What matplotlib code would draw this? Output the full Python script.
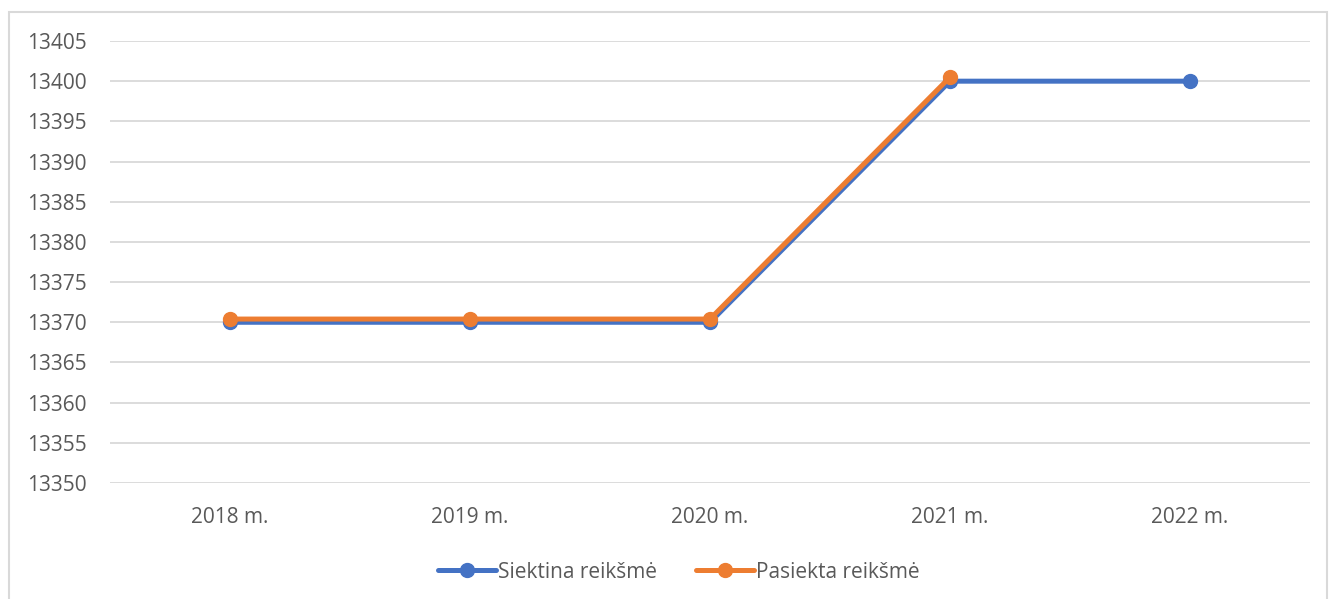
import numpy as np
import matplotlib.pyplot as plt
from matplotlib.patches import Rectangle

plt.rcParams['font.family'] = ['Open Sans', 'DejaVu Sans']

years = ["2018 m.", "2019 m.", "2020 m.", "2021 m.", "2022 m."]
siektina = [13370, 13370, 13370, 13400, 13400]
pasiekta = [13370.4, 13370.4, 13370.4, 13400.5, np.nan]

fig = plt.figure(figsize=(13.3, 5.99), dpi=100)
ax = fig.add_axes([110 / 1330, 1 - 483 / 599, 1200 / 1330, 442 / 599])

# outer chart frame
fig.patches.append(Rectangle((9 / 1330, -0.01), 1318 / 1330, 1 - 12 / 599 + 0.01,
                             transform=fig.transFigure, fill=False,
                             edgecolor='#D9D9D9', linewidth=1.5))

x = np.arange(len(years))
ax.plot(x, siektina, color='#4472C4', linewidth=3.6, marker='o', markersize=10,
        label='Siektina reikšmė', solid_capstyle='round')
ax.plot(x, pasiekta, color='#ED7D31', linewidth=3.6, marker='o', markersize=10,
        label='Pasiekta reikšmė', solid_capstyle='round')

ax.set_xlim(-0.5, 4.5)
ax.set_ylim(13350, 13405)
ax.set_yticks(np.arange(13350, 13406, 5))
ax.set_xticks(x)
ax.set_xticklabels(years)
ax.grid(axis='y', color='#D9D9D9', linewidth=1.3)
ax.set_axisbelow(True)
for s in ax.spines.values():
    s.set_visible(False)
ax.tick_params(length=0, labelsize=15, colors='#595959')
ax.tick_params(axis='y', pad=17)
ax.tick_params(axis='x', pad=17)

leg = ax.legend(loc='center', bbox_to_anchor=(0.474, -0.2015), ncol=2, frameon=False,
                fontsize=15, handlelength=2.75, columnspacing=1.9, handletextpad=0.1)
for t in leg.get_texts():
    t.set_color('#595959')

fig.savefig("out.png", dpi=100)
